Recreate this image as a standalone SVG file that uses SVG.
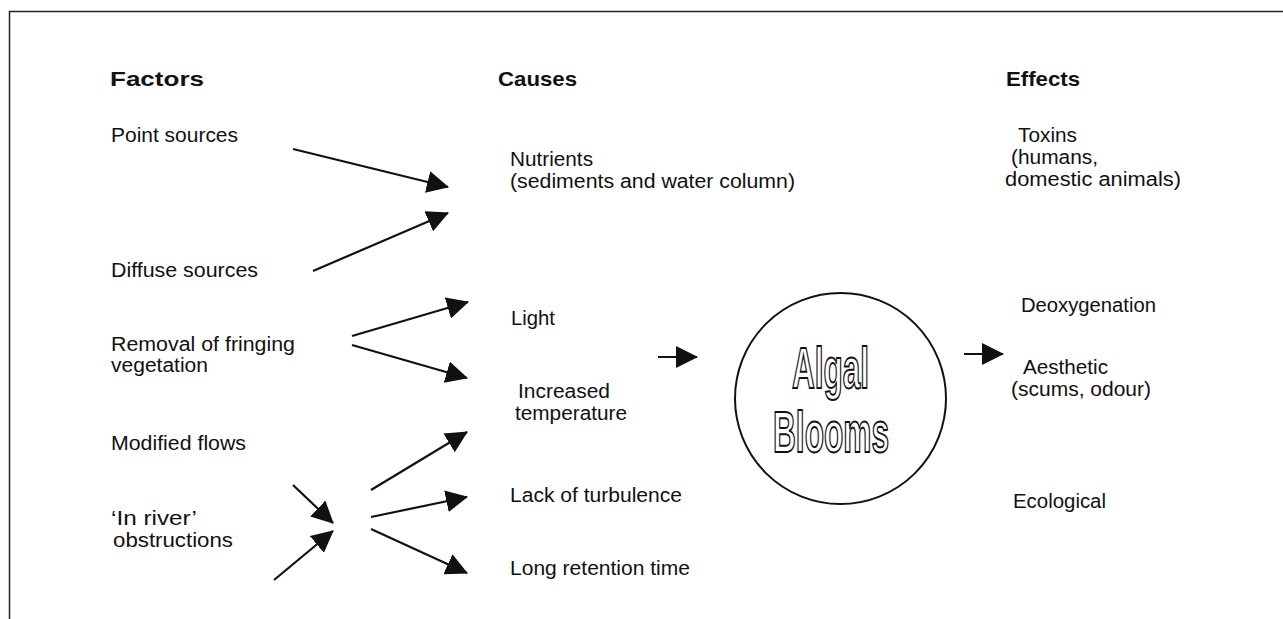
<svg xmlns="http://www.w3.org/2000/svg" width="1283" height="619" viewBox="0 0 1283 619">
<style>
.t{font-family:"Liberation Sans",Arial,Helvetica,sans-serif;font-size:20px;fill:#111}
.h{font-family:"Liberation Sans",Arial,Helvetica,sans-serif;font-size:21px;font-weight:bold;fill:#111}
.c{fill:none;stroke:#111;stroke-width:2.2}
.ab{font-family:"Liberation Sans Narrow","Liberation Sans",Arial,sans-serif;font-size:57px;font-weight:bold;fill:#fff;stroke:#111;stroke-width:2}
</style>
<defs>
<marker id="ah" markerUnits="userSpaceOnUse" markerWidth="22" markerHeight="22" refX="21" refY="11" orient="auto">
<path d="M0,0 L22,11 L0,22 z" fill="#111"/>
</marker>
</defs>
<rect width="1283" height="619" fill="#fff"/>
<g id="frame"><path d="M9.5,619 V11.5 H1283" fill="none" stroke="#222" stroke-width="1.5"/></g>
<g id="headers">
<text class="h" x="110" y="86" textLength="94" lengthAdjust="spacingAndGlyphs">Factors</text>
<text class="h" x="498" y="86" textLength="79" lengthAdjust="spacingAndGlyphs">Causes</text>
<text class="h" x="1006" y="86" textLength="74" lengthAdjust="spacingAndGlyphs">Effects</text>
</g>
<g id="factor-point"><text class="t" x="111" y="142" textLength="127" lengthAdjust="spacingAndGlyphs">Point sources</text></g>
<g id="factor-diffuse"><text class="t" x="111" y="277" textLength="147" lengthAdjust="spacingAndGlyphs">Diffuse sources</text></g>
<g id="factor-removal"><text class="t" x="111" y="351" textLength="184" lengthAdjust="spacingAndGlyphs">Removal of fringing</text>
<text class="t" x="111" y="372" textLength="97" lengthAdjust="spacingAndGlyphs">vegetation</text></g>
<g id="factor-modified"><text class="t" x="111" y="450" textLength="135" lengthAdjust="spacingAndGlyphs">Modified flows</text></g>
<g id="factor-inriver"><text class="t" x="111" y="525" textLength="86" lengthAdjust="spacingAndGlyphs">‘In river’</text>
<text class="t" x="113" y="547" textLength="120" lengthAdjust="spacingAndGlyphs">obstructions</text></g>
<g id="cause-nutrients"><text class="t" x="510" y="166" textLength="83" lengthAdjust="spacingAndGlyphs">Nutrients</text>
<text class="t" x="510" y="188" textLength="285" lengthAdjust="spacingAndGlyphs">(sediments and water column)</text></g>
<g id="cause-light"><text class="t" x="511" y="325" textLength="44" lengthAdjust="spacingAndGlyphs">Light</text></g>
<g id="cause-temp"><text class="t" x="518" y="398" textLength="92" lengthAdjust="spacingAndGlyphs">Increased</text>
<text class="t" x="515" y="420" textLength="112" lengthAdjust="spacingAndGlyphs">temperature</text></g>
<g id="cause-turbulence"><text class="t" x="510" y="502" textLength="172" lengthAdjust="spacingAndGlyphs">Lack of turbulence</text></g>
<g id="cause-retention"><text class="t" x="510" y="575" textLength="180" lengthAdjust="spacingAndGlyphs">Long retention time</text></g>
<g id="algal-blooms">
<circle cx="840.5" cy="398.5" r="105.5" fill="none" stroke="#111" stroke-width="2"/>
<text class="ab" x="792" y="388" textLength="77" lengthAdjust="spacingAndGlyphs">Algal</text>
<text class="ab" x="773" y="452" textLength="116" lengthAdjust="spacingAndGlyphs">Blooms</text>
</g>
<g id="effect-toxins"><text class="t" x="1018" y="142" textLength="59" lengthAdjust="spacingAndGlyphs">Toxins</text>
<text class="t" x="1011" y="164" textLength="87" lengthAdjust="spacingAndGlyphs">(humans,</text>
<text class="t" x="1005" y="186" textLength="176" lengthAdjust="spacingAndGlyphs">domestic animals)</text></g>
<g id="effect-deox"><text class="t" x="1021" y="312" textLength="135" lengthAdjust="spacingAndGlyphs">Deoxygenation</text></g>
<g id="effect-aesthetic"><text class="t" x="1023" y="374" textLength="85" lengthAdjust="spacingAndGlyphs">Aesthetic</text>
<text class="t" x="1011" y="396" textLength="140" lengthAdjust="spacingAndGlyphs">(scums, odour)</text></g>
<g id="effect-ecological"><text class="t" x="1013" y="508" textLength="93" lengthAdjust="spacingAndGlyphs">Ecological</text></g>
<g id="connectors">
<line class="c" x1="293" y1="149" x2="448" y2="187" marker-end="url(#ah)"/>
<line class="c" x1="313" y1="271" x2="448" y2="213" marker-end="url(#ah)"/>
<line class="c" x1="352" y1="336" x2="468" y2="302" marker-end="url(#ah)"/>
<line class="c" x1="352" y1="345" x2="467" y2="378" marker-end="url(#ah)"/>
<line class="c" x1="293" y1="485" x2="333" y2="523" marker-end="url(#ah)"/>
<line class="c" x1="274" y1="580" x2="333" y2="531" marker-end="url(#ah)"/>
<line class="c" x1="371" y1="490" x2="467" y2="432" marker-end="url(#ah)"/>
<line class="c" x1="371" y1="517" x2="467" y2="497" marker-end="url(#ah)"/>
<line class="c" x1="371" y1="529" x2="467" y2="573" marker-end="url(#ah)"/>
<line class="c" x1="658" y1="357" x2="697" y2="357" marker-end="url(#ah)"/>
<line class="c" x1="964" y1="354" x2="1003" y2="354" marker-end="url(#ah)"/>
</g>
</svg>
